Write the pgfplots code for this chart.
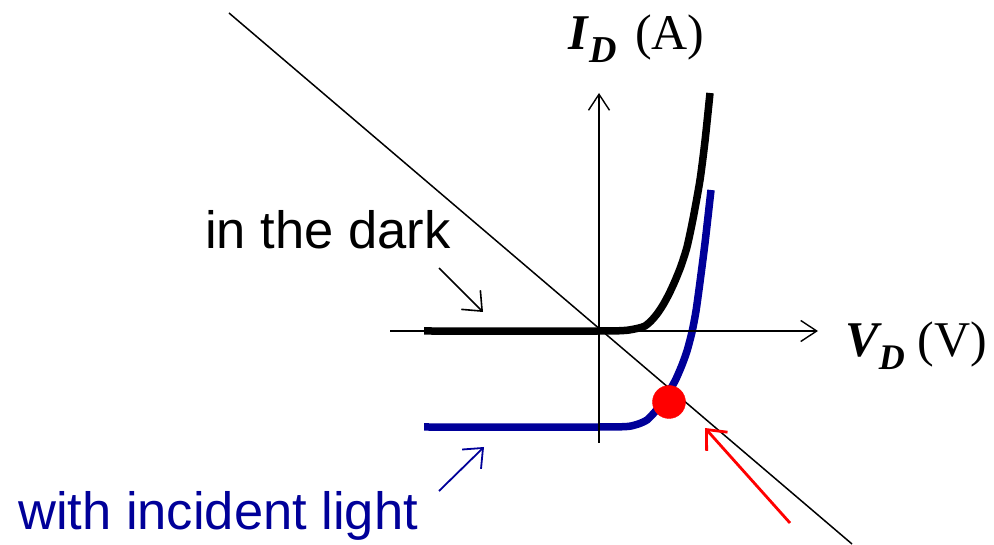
\documentclass[border=0pt]{standalone}
\usepackage{pgfplots}
\pgfplotsset{compat=1.18}
\usetikzlibrary{arrows.meta}
\usepackage{fontspec}
\setmainfont{Liberation Serif}
\newfontfamily\arial{Liberation Sans}
\definecolor{darkblue}{HTML}{000099}

\begin{document}
\begin{tikzpicture}
\begin{axis}[x=1pt, y=1pt,
  xmin=-599, xmax=395, ymin=-213, ymax=331,
  hide axis, clip=false]

% diode characteristic in the dark
\addplot[black, line width=7.5pt, line join=round, smooth, tension=0.4] coordinates {
  (-175,0) (0,0) (25,0.5) (33,1.5) (40,3) (46,5) (52,10) (58,17) (64,26)
  (70,37) (76,50) (82,65) (88,84) (94,112) (101,151) (106,190) (111,238)};

% diode characteristic under illumination
\addplot[darkblue, line width=7.5pt, line join=round, smooth, tension=0.4] coordinates {
  (-175,-96) (0,-96) (28,-95.5) (36,-94) (42,-92) (48,-89) (54,-83) (60,-76)
  (66,-67) (71,-59) (77,-48) (83,-34) (88,-20) (93,-1) (97,20) (101,49)
  (106,88) (112,141)};

% operating point
\addplot[only marks, mark=*, mark size=16.5pt, color=red] coordinates {(70,-71)};

% load line
\addplot[black, line width=1.5pt] coordinates {(-370,318) (253,-213)};

% axes
\addplot[black, line width=1.4pt, -{Straight Barb[length=16pt,width=21pt]}]
  coordinates {(-209,0) (219,0)};
\addplot[black, line width=1.4pt, -{Straight Barb[length=16pt,width=21pt]}]
  coordinates {(0,-112) (0,238)};

% pointer arrows
\addplot[black, line width=1.6pt, -{Straight Barb[length=16pt,width=27pt]}]
  coordinates {(-160,63) (-116,19)};
\addplot[darkblue, line width=1.8pt, -{Straight Barb[length=16pt,width=27pt]}]
  coordinates {(-160,-160) (-115,-116)};
\addplot[red, line width=2.8pt, -{Straight Barb[length=16pt,width=28pt]}]
  coordinates {(191,-192) (106,-97)};

% labels
\node[anchor=base west, inner sep=0pt, font={\arial\fontsize{52.5}{60}\selectfont}]
  at (axis cs:-394,82) {in the dark};
\node[anchor=base west, inner sep=0pt, text=darkblue, font={\arial\fontsize{52.5}{60}\selectfont}]
  at (axis cs:-581,-199) {with incident light};
\node[anchor=base west, inner sep=0pt, font={\fontsize{50}{58}\selectfont}]
  at (axis cs:-31,281)
  {\textbf{\textit{I}}\raisebox{-13pt}{\fontsize{38}{44}\selectfont\textbf{\textit{D}}}\hspace{0.12em} (A)};
\node[anchor=base west, inner sep=0pt, font={\fontsize{50}{58}\selectfont}]
  at (axis cs:246,-26)
  {\textbf{\textit{V}}\hspace{-0.06em}\raisebox{-13pt}{\fontsize{36}{42}\selectfont\textbf{\textit{D}}} (V)};
\end{axis}
\pgfresetboundingbox
\path (current axis.south west) rectangle (current axis.north east);
\end{tikzpicture}
\end{document}
